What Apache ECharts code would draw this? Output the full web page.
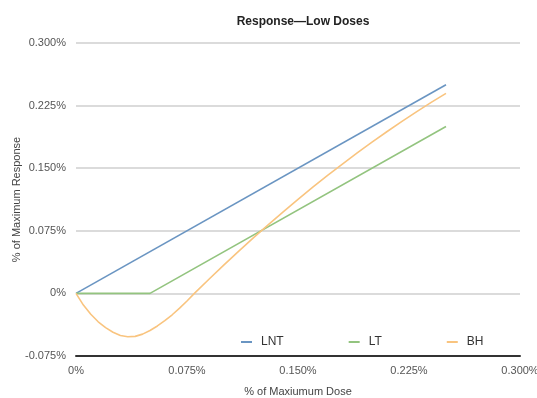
<!DOCTYPE html>
<html><head><meta charset="utf-8">
<script src="https://cdn.jsdelivr.net/npm/echarts@6/dist/echarts.min.js"></script>
<style>html,body{margin:0;padding:0;background:#fff}#c{width:537px;height:398px}</style>
</head><body><div id="c"></div>
<script>
// values in percent units
const lntData = [[0, 0], [0.25, 0.25]];
const ltData = [[0, 0], [0.05, 0], [0.25, 0.2]];
const bhData = [[0,0],[0.005,-0.014],[0.01,-0.025],[0.015,-0.034],[0.02,-0.041],[0.025,-0.0465],[0.03,-0.0505],[0.035,-0.052],[0.04,-0.0515],[0.045,-0.0488],[0.05,-0.0445],[0.055,-0.039],[0.06,-0.0327],[0.065,-0.0256],[0.07,-0.0177],[0.075,-0.0091],[0.08,0],[0.09,0.0173],[0.1,0.0342],[0.11,0.0507],[0.12,0.0668],[0.13,0.0825],[0.14,0.0978],[0.15,0.1127],[0.16,0.1272],[0.17,0.1413],[0.18,0.155],[0.19,0.1683],[0.2,0.1812],[0.21,0.1937],[0.22,0.2058],[0.23,0.2175],[0.24,0.2288],[0.25,0.2397]];
const seriesNames = ['LNT', 'LT', 'BH'];
const titleText = 'Response\u2014Low Doses';
const xName = '% of Maxiumum Dose';
const yName = '% of Maximum Response';

const FONT = "'Liberation Sans Narrow', 'Liberation Sans', Arial, sans-serif";
const fmt = v => Math.abs(v) < 1e-9 ? '0%' : v.toFixed(3) + '%';
const colors = ['#6a95c2', '#93c47f', '#f9c47f'];

const chart = echarts.init(document.getElementById('c'), null, {renderer: 'canvas'});
chart.setOption({
  animation: false,
  backgroundColor: '#fff',
  color: colors,
  title: {text: titleText, left: 298, top: 11, textAlign: 'center',
    textStyle: {fontFamily: FONT, fontSize: 12, fontWeight: 'bold', color: '#222'}},
  grid: {left: 76, right: 17, top: 43, bottom: 42, containLabel: false, outerBoundsMode: 'none'},
  legend: {left: 236, top: 331, itemGap: 65, itemWidth: 11, itemHeight: 2, icon: 'rect',
    textStyle: {fontFamily: FONT, fontSize: 12, color: '#333', padding: [0, 0, 0, 4]},
    data: seriesNames},
  xAxis: {type: 'value', min: 0, max: 0.3, interval: 0.075,
    name: xName, nameLocation: 'middle', nameGap: 30, nameMoveOverlap: false,
    nameTextStyle: {fontFamily: FONT, fontSize: 11, color: '#444'},
    axisLine: {onZero: false, lineStyle: {color: '#333', width: 2}},
    axisTick: {show: false}, splitLine: {show: false},
    axisLabel: {formatter: fmt, fontFamily: FONT, fontSize: 11, color: '#555', margin: 9}},
  yAxis: {type: 'value', min: -0.075, max: 0.3, interval: 0.075,
    name: yName, nameLocation: 'middle', nameGap: 54, nameMoveOverlap: false,
    nameTextStyle: {fontFamily: FONT, fontSize: 11, color: '#444'},
    axisLine: {show: false}, axisTick: {show: false},
    splitLine: {lineStyle: {color: '#cfcfcf', width: 1.5}},
    axisLabel: {formatter: fmt, fontFamily: FONT, fontSize: 11, color: '#555', margin: 10}},
  series: [
    {name: seriesNames[0], type: 'line', data: lntData, showSymbol: false, lineStyle: {width: 1.6}},
    {name: seriesNames[1], type: 'line', data: ltData, showSymbol: false, lineStyle: {width: 1.6}},
    {name: seriesNames[2], type: 'line', data: bhData, showSymbol: false, smooth: false, lineStyle: {width: 1.6}}
  ]
});
</script></body></html>
